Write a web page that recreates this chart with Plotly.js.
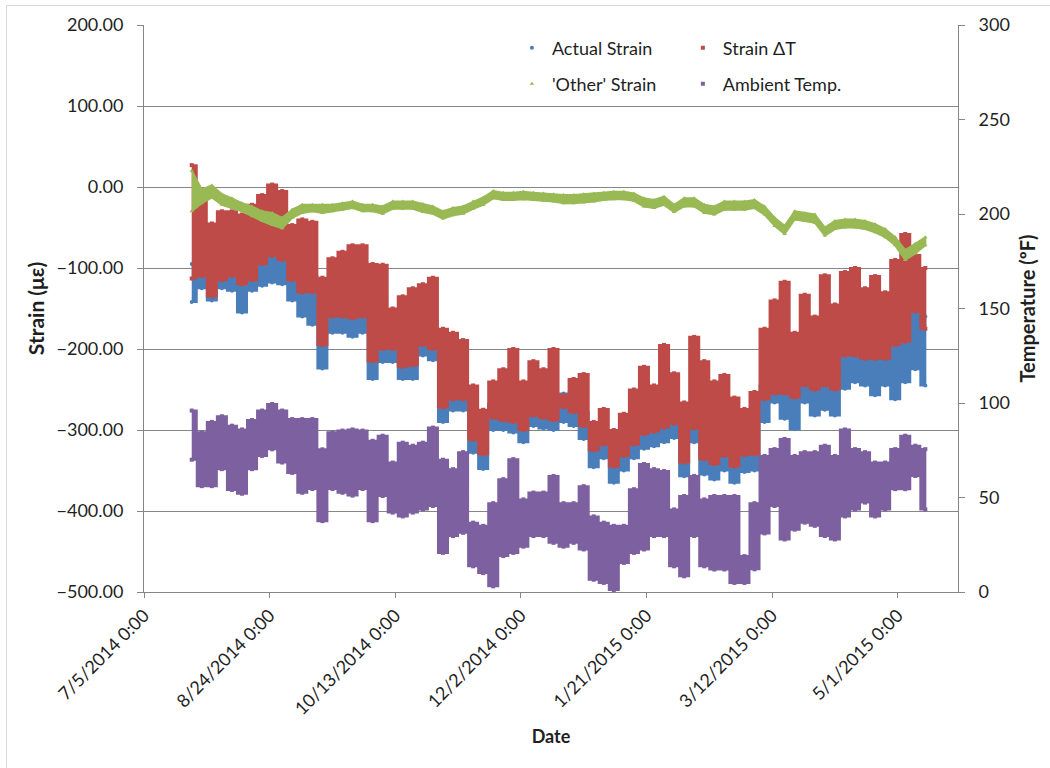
<!DOCTYPE html>
<html>
<head>
<meta charset="utf-8">
<script src="https://cdn.plot.ly/plotly-3.0.1.min.js"></script>
<style>
  html, body { margin: 0; padding: 0; background: #ffffff; }
  #chart { width: 1050px; height: 768px; }
  #frame {
    position: absolute; left: 6px; top: 5px; width: 1044px; height: 763px;
    border-left: 1px solid #d9d9d9; border-top: 1px solid #d9d9d9;
    pointer-events: none; z-index: 5;
  }
</style>
</head>
<body>
<div id="chart"></div>
<div id="frame"></div>
<script>
// Gauge readings, summarised every 4 days as the daily low / high envelope.
const sampleDates = [
  '2014-07-24','2014-07-28','2014-08-01','2014-08-05','2014-08-09','2014-08-13','2014-08-17','2014-08-21',
  '2014-08-25','2014-08-29','2014-09-02','2014-09-06','2014-09-10','2014-09-14','2014-09-18','2014-09-22',
  '2014-09-26','2014-09-30','2014-10-04','2014-10-08','2014-10-12','2014-10-16','2014-10-20','2014-10-24',
  '2014-10-28','2014-11-01','2014-11-05','2014-11-09','2014-11-13','2014-11-17','2014-11-21','2014-11-25',
  '2014-11-29','2014-12-03','2014-12-07','2014-12-11','2014-12-15','2014-12-19','2014-12-23','2014-12-27',
  '2014-12-31','2015-01-04','2015-01-08','2015-01-12','2015-01-16','2015-01-20','2015-01-24','2015-01-28',
  '2015-02-01','2015-02-05','2015-02-09','2015-02-13','2015-02-17','2015-02-21','2015-02-25','2015-03-01',
  '2015-03-05','2015-03-09','2015-03-13','2015-03-17','2015-03-21','2015-03-25','2015-03-29','2015-04-02',
  '2015-04-06','2015-04-10','2015-04-14','2015-04-18','2015-04-22','2015-04-26','2015-04-30','2015-05-04',
  '2015-05-08','2015-05-12'
];

// Actual strain (microstrain)
const actualHigh = [
  -95,-90,-120,-95,-90,-100,-95,-80,-75,-80,-95,-110,-110,-175,-140,-140,-142,-140,-195,
  -185,-185,-205,-205,-180,-185,-255,-245,-245,-295,-312,-268,-270,-272,-282,-265,-268,-270,
  -255,-260,-278,-308,-300,-328,-315,-300,-288,-285,-280,-275,-322,-280,-318,-325,-315,-328,
  -312,-312,-245,-238,-238,-242,-228,-232,-228,-232,-190,-188,-192,-192,-190,-170,-160,-145,-160
];
const actualLow = [
  -142,-125,-140,-125,-128,-155,-128,-122,-118,-120,-140,-160,-170,-224,-180,-180,-185,-180,-237,
  -216,-216,-237,-237,-208,-214,-290,-276,-276,-328,-348,-300,-300,-303,-315,-295,-298,-300,
  -290,-295,-311,-346,-335,-365,-350,-335,-323,-320,-315,-310,-357,-315,-355,-361,-350,-365,
  -352,-350,-290,-266,-286,-299,-266,-282,-275,-282,-249,-241,-245,-257,-245,-262,-241,-225,-245
];

// Thermal strain component (microstrain)
const deltaTHigh = [
  27,-12,-45,-30,-30,-34,-22,-10,3,-5,-47,-40,-43,-112,-88,-80,-72,-72,-95,
  -96,-150,-135,-125,-120,-112,-175,-180,-189,-245,-275,-240,-225,-200,-240,-215,-225,-200,
  -257,-237,-231,-290,-274,-300,-280,-250,-222,-245,-195,-230,-266,-185,-215,-240,-232,-260,
  -274,-253,-175,-140,-117,-180,-133,-160,-109,-145,-105,-100,-125,-110,-130,-90,-58,-84,-100
];
const deltaTLow = [
  -113,-110,-135,-115,-110,-120,-115,-95,-85,-90,-115,-130,-130,-195,-160,-160,-162,-160,-215,
  -200,-200,-222,-220,-195,-200,-272,-262,-262,-312,-330,-285,-288,-290,-300,-282,-285,-288,
  -272,-278,-295,-325,-318,-345,-332,-318,-305,-302,-297,-292,-340,-298,-336,-342,-332,-345,
  -331,-330,-262,-255,-255,-260,-245,-250,-245,-250,-208,-208,-212,-212,-212,-195,-191,-154,-175
];

// Remaining ("other") strain (microstrain)
const otherHigh = [
  20,-3,2,-9,-14,-20,-24,-30,-32,-38,-28,-22,-22,-22,-22,-20,-18,-22,-22,
  -24,-18,-18,-18,-21,-24,-30,-26,-24,-18,-13,-5,-7,-7,-6,-7,-8,-9,
  -10,-10,-9,-8,-7,-6,-6,-8,-14,-16,-12,-22,-14,-14,-22,-24,-18,-18,
  -18,-16,-24,-38,-48,-30,-32,-34,-50,-42,-40,-40,-42,-46,-52,-62,-78,-70,-62
];
const otherLow = [
  -30,-20,-13,-22,-26,-30,-36,-42,-47,-51,-38,-32,-30,-32,-30,-28,-26,-30,-30,
  -33,-27,-27,-27,-31,-33,-39,-35,-33,-27,-22,-14,-16,-16,-15,-16,-17,-18,
  -20,-20,-19,-18,-16,-15,-15,-17,-24,-26,-22,-31,-24,-24,-32,-34,-28,-28,
  -28,-26,-34,-48,-58,-40,-42,-44,-60,-52,-50,-50,-52,-56,-62,-72,-90,-82,-72
];

// Ambient temperature (deg F)
const tempHigh = [
  96,84.5,90,93,88,86,91,96,99.5,96,91.5,91.5,91.5,75.5,84.5,85.4,86,85.4,80,
  82.7,68.5,79,77.4,79,87,70,65,74,36.7,35,47,59.7,70.3,49,52.6,52.6,61.4,
  47,47,56,40,36.7,35,35,54.4,67.7,65,64,43.7,50.8,61.4,49,50.8,50.8,50.8,
  19,47,72,75.6,81,72,74,74,77.4,72,86,75.6,74,68.5,68.5,75.6,82.7,77.4,75.6
];
const tempLow = [
  70,56,56,65,54,52,65,72,75.5,68.5,63,52.5,54.5,37.5,54.5,52.5,51,54.5,37.5,
  50.8,42,40,42,43.7,45.5,20.7,29.6,31.3,13.6,10,3,19,20.7,24,29.6,29.6,26,
  24,26,22.5,6.5,4.8,1,15.4,20.7,22.5,29.6,29.6,13.6,8.3,29.6,13.6,11.9,11.9,4.8,
  4.8,12,31,45.5,27.8,33,36.7,35,29.6,27.8,40,43.7,47.3,40,43.7,54.4,54.4,61.4,43.7
];

const seriesNames = ['Actual Strain', 'Strain \u0394T', "'Other' Strain", 'Ambient Temp.'];

const FONT = 'Lato, "Open Sans", Arial, sans-serif';
const TEXT = '#1f1f1f';
const AXIS = '#868686';

// Envelope polygon: high values forward, low values back again.
function band(hi, lo, color, yaxis, shape) {
  return {
    type: 'scatter', mode: 'lines', hoverinfo: 'skip', showlegend: false,
    x: sampleDates.concat(sampleDates.slice().reverse()),
    y: hi.concat(lo.slice().reverse()),
    fill: 'toself', fillcolor: color,
    line: { color: color, width: 2, shape: shape },
    yaxis: yaxis
  };
}

// Sample points on the envelope edges; these carry the legend entries.
function points(hi, lo, name, color, symbol, yaxis, legend) {
  return {
    type: 'scatter', mode: 'markers', name: name,
    x: sampleDates.concat(sampleDates),
    y: hi.concat(lo),
    marker: { color: color, size: 4, symbol: symbol, line: { width: 0 } },
    yaxis: yaxis, legend: legend
  };
}

const BLUE = '#4a7ebb', RED = '#be4b48', GREEN = '#98b954', PURPLE = '#7d60a0';

const traces = [
  band(actualHigh, actualLow, BLUE, 'y', 'hvh'),
  points(actualHigh, actualLow, seriesNames[0], BLUE, 'circle', 'y', 'legend'),
  band(deltaTHigh, deltaTLow, RED, 'y', 'hvh'),
  points(deltaTHigh, deltaTLow, seriesNames[1], RED, 'square', 'y', 'legend2'),
  band(otherHigh, otherLow, GREEN, 'y', 'linear'),
  points(otherHigh, otherLow, seriesNames[2], GREEN, 'triangle-up', 'y', 'legend3'),
  band(tempHigh, tempLow, PURPLE, 'y2', 'hvh'),
  points(tempHigh, tempLow, seriesNames[3], PURPLE, 'square', 'y2', 'legend4')
];

function legendAt(x, y) {
  return {
    x: x, y: y, xanchor: 'left', yanchor: 'middle',
    bgcolor: 'rgba(0,0,0,0)', borderwidth: 0,
    font: { family: FONT, size: 18, color: TEXT },
    itemsizing: 'trace'
  };
}

const layout = {
  width: 1050, height: 768,
  margin: { l: 144, r: 92, t: 25, b: 176 },
  paper_bgcolor: '#ffffff', plot_bgcolor: '#ffffff',
  font: { family: FONT, size: 18, color: TEXT },
  showlegend: true,
  legend: legendAt(0.452, 0.9594),
  legend2: legendAt(0.662, 0.9594),
  legend3: legendAt(0.452, 0.8959),
  legend4: legendAt(0.662, 0.8959),
  xaxis: {
    type: 'date',
    range: ['2014-07-05', '2015-05-25'],
    tick0: '2014-07-05', dtick: 50 * 86400000,
    tickformat: '%-m/%-d/%Y %-H:%M',
    tickangle: -45,
    ticks: 'outside', ticklen: 5, tickcolor: AXIS,
    showline: true, linecolor: AXIS, linewidth: 1,
    showgrid: false, zeroline: false,
    tickfont: { family: FONT, size: 18, color: TEXT },
    title: { text: 'Date', font: { family: FONT, size: 18, color: TEXT, weight: 700 }, standoff: 12 }
  },
  yaxis: {
    range: [-500, 200], dtick: 100, tickformat: '.2f',
    ticks: 'outside', ticklen: 6, tickcolor: AXIS,
    showline: true, linecolor: AXIS, linewidth: 1,
    showgrid: true, gridcolor: AXIS, gridwidth: 1, zeroline: false,
    ticklabelstandoff: 10,
    tickfont: { family: FONT, size: 18, color: TEXT },
    title: { text: 'Strain (\u03bc\u03b5)', font: { family: FONT, size: 21, color: TEXT, weight: 700 }, standoff: 6 }
  },
  yaxis2: {
    overlaying: 'y', side: 'right',
    range: [0, 300], dtick: 50,
    ticks: 'outside', ticklen: 6, tickcolor: AXIS,
    showline: true, linecolor: AXIS, linewidth: 1,
    showgrid: false, zeroline: false,
    ticklabelstandoff: 10,
    tickfont: { family: FONT, size: 18, color: TEXT },
    title: { text: 'Temperature (\u00baF)', font: { family: FONT, size: 20, color: TEXT, weight: 700 }, standoff: 12 }
  }
};

Plotly.newPlot('chart', traces, layout, { displayModeBar: false, staticPlot: true });
</script>
</body>
</html>
